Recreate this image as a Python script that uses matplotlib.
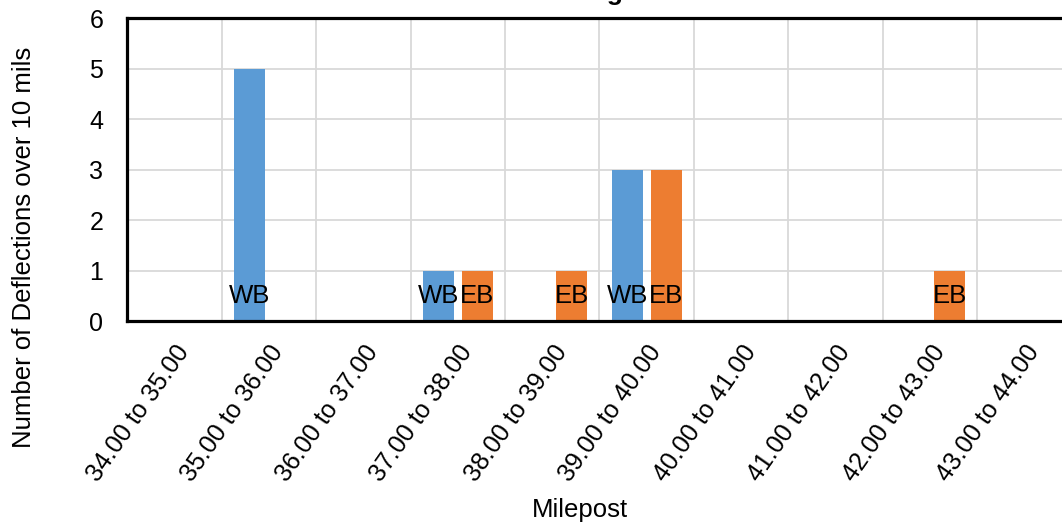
import numpy as np
import matplotlib
matplotlib.use("Agg")
import matplotlib.pyplot as plt

plt.rcParams['font.family'] = ['Liberation Sans', 'DejaVu Sans']

# milepost segments and counts of deflections over 10 mils
segments = ["34.00 to 35.00", "35.00 to 36.00", "36.00 to 37.00", "37.00 to 38.00",
            "38.00 to 39.00", "39.00 to 40.00", "40.00 to 41.00", "41.00 to 42.00",
            "42.00 to 43.00", "43.00 to 44.00"]
wb_counts = [0, 5, 0, 1, 0, 3, 0, 0, 0, 0]
eb_counts = [0, 0, 0, 1, 1, 3, 0, 0, 1, 0]
series_names = ["WB", "EB"]
y_ticks = [0, 1, 2, 3, 4, 5, 6]

blue = "#5B9BD5"
orange = "#ED7D31"
grid_col = "#D9D9D9"

fig = plt.figure(figsize=(10.62, 5.23), dpi=100)
ax = fig.add_axes([0.1196, 0.3862, 0.8898, 0.5793])

x = np.arange(len(segments))
bw = 0.328
off = 0.207
ax.bar(x - off, wb_counts, width=bw, color=blue, zorder=3)
ax.bar(x + off, eb_counts, width=bw, color=orange, zorder=3)

# series name labels at the base of each non-zero bar
for vals, name, dx in [(wb_counts, series_names[0], -off), (eb_counts, series_names[1], off)]:
    for i, v in enumerate(vals):
        if v > 0:
            ax.annotate(name, (i + dx, 0), xytext=(0, 13), textcoords="offset points",
                        ha="center", va="baseline", fontsize=18.5, color="black", zorder=4)

ax.set_xlim(-0.5, len(segments) - 0.5)
ax.set_ylim(0, 6)
ax.set_yticks(y_ticks)
ax.set_xticks(x)
ax.set_xticklabels(segments, rotation=55, ha="right", rotation_mode="anchor", fontsize=18)
ax.tick_params(axis="y", length=0, pad=17, labelsize=18)
ax.tick_params(axis="x", length=0, pad=14)

# gridlines: horizontal at integers, vertical between categories
for yv in y_ticks[1:]:
    ax.axhline(yv, color=grid_col, lw=1.3, zorder=1)
for b in np.arange(-0.5, len(segments), 1.0)[1:]:
    ax.axvline(b, color=grid_col, lw=1.3, zorder=1)

for s in ax.spines.values():
    s.set_linewidth(2.3)
    s.set_color("black")
    s.set_zorder(5)

fig.text(580 / 1062, 1 - 517 / 523, "Milepost", ha="center", va="baseline", fontsize=18.5)
fig.text(24 / 1062, 1 - 247 / 523, "Number of Deflections over 10 mils", ha="center",
         va="center", rotation=90, fontsize=18.5)

fig.text(623 / 1062, 1.0, "Deflection Testing", ha="right", va="baseline",
         fontsize=19, fontweight="bold")

fig.savefig("out.png", dpi=100)
